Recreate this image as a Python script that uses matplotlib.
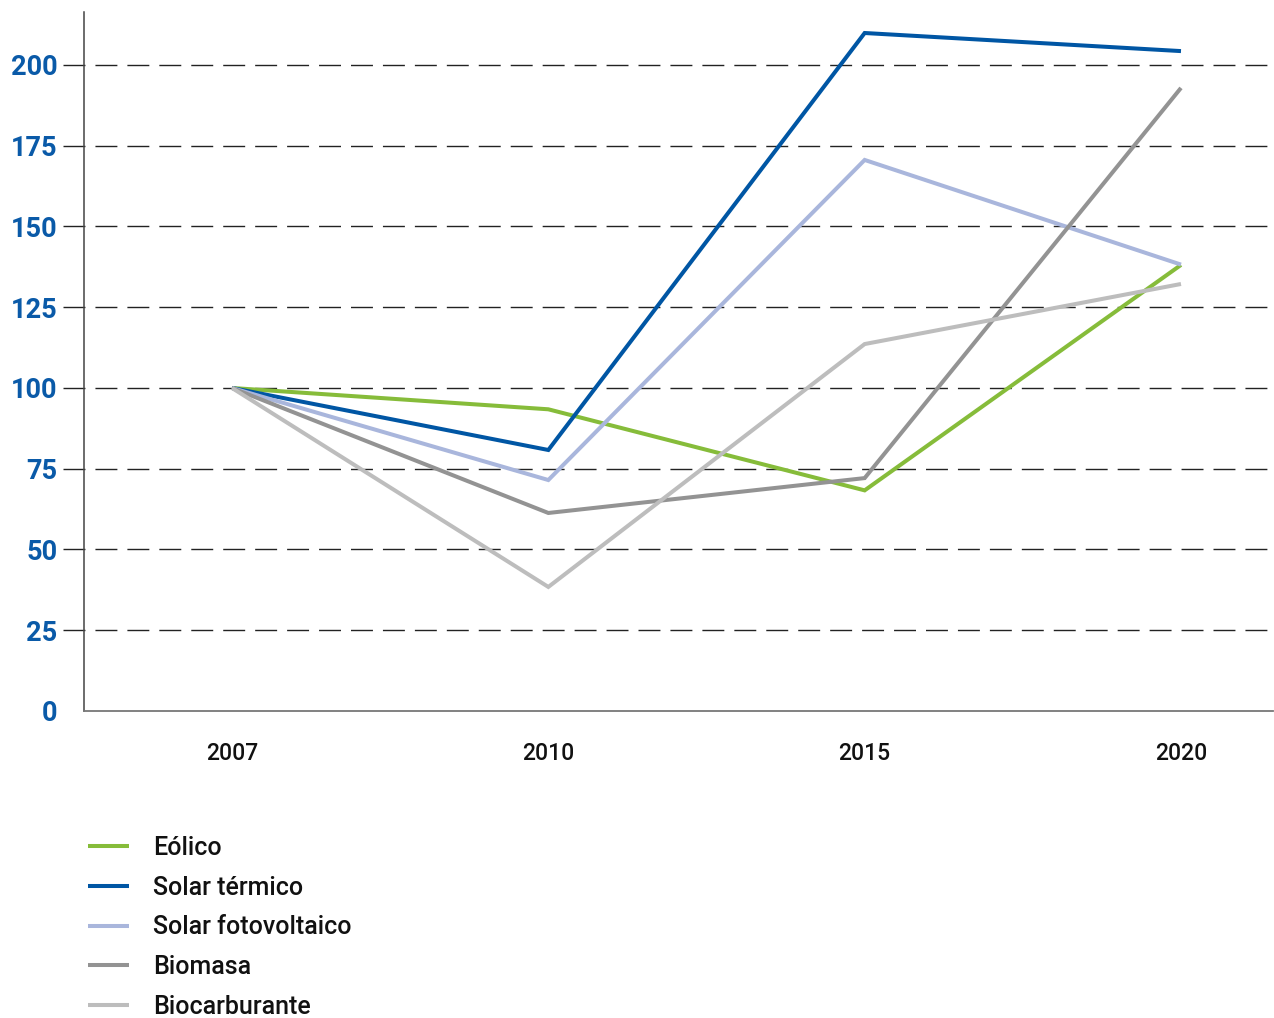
import matplotlib.pyplot as plt

years = ['2007', '2010', '2015', '2020']
eolico = [100, 93.4, 68.3, 138.1]
solar_termico = [100, 80.8, 209.9, 204.3]
solar_fv = [100, 71.5, 170.6, 138.2]
biomasa = [100, 61.3, 72.1, 192.9]
biocarburante = [100, 38.4, 113.6, 132.2]
yticks = [0, 25, 50, 75, 100, 125, 150, 175, 200]

series = [
    ('Eólico', eolico, '#86bc3a'),
    ('Solar térmico', solar_termico, '#0056a4'),
    ('Solar fotovoltaico', solar_fv, '#a9b6dc'),
    ('Biomasa', biomasa, '#939393'),
    ('Biocarburante', biocarburante, '#bdbdbd'),
]

plt.rcParams['font.family'] = ['Roboto', 'DejaVu Sans']

fig = plt.figure(figsize=(12.74, 10.18), dpi=100)
ax = fig.add_axes([0.0659, 0.3016, 0.9331, 0.6866])

x = range(len(years))

# dashed reference lines, starting a bit left of the y axis
for yv in yticks[1:]:
    ax.axhline(yv, xmin=-0.0177, xmax=1, color='#222222', lw=1.0,
               dashes=(15.8, 7.2), clip_on=False, zorder=1)

for name, vals, col in series:
    ax.plot(x, vals, color=col, lw=2.9, label=name, zorder=3,
            solid_capstyle='butt', solid_joinstyle='miter')

ax.set_xlim(-0.468, 3.29)
ax.set_ylim(0, 216.4)
ax.set_xticks(list(x))
ax.set_xticklabels(years)
ax.set_yticks(yticks)
ax.set_yticklabels([str(v) for v in yticks])

ax.tick_params(axis='x', length=0, pad=22.5, labelsize=16.5, labelcolor='#111111')
ax.tick_params(axis='y', length=0, pad=19, labelsize=19.5, labelcolor='#0a5aa8')
for lab in ax.get_yticklabels():
    lab.set_fontweight('bold')
for lab in ax.get_xticklabels():
    lab.set_fontweight('medium')

for s in ['top', 'right']:
    ax.spines[s].set_visible(False)
ax.spines['left'].set_color('#444444')
ax.spines['left'].set_linewidth(1.1)
ax.spines['bottom'].set_color('#777777')
ax.spines['bottom'].set_linewidth(1.3)

leg = fig.legend(loc='upper left', bbox_to_anchor=(0.069, 0.179), frameon=False,
                 prop={'size': 18, 'weight': 'medium'}, handlelength=1.65,
                 handletextpad=0.95, labelspacing=0.63, borderpad=0,
                 borderaxespad=0)
for t in leg.get_texts():
    t.set_color('#111111')

fig.savefig('out.png', dpi=100)
